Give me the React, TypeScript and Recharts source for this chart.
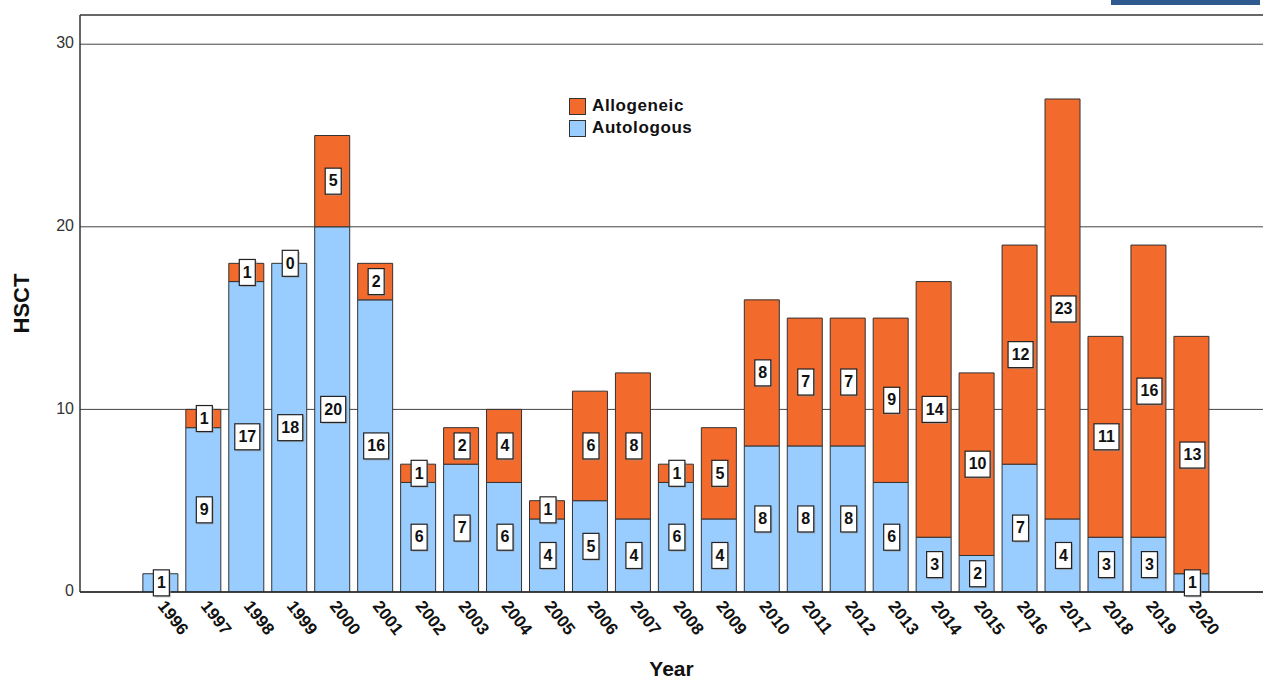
import React from 'react';
import { BarChart, Bar, XAxis, YAxis, CartesianGrid, LabelList, ReferenceLine } from 'recharts';

const years = ['1996','1997','1998','1999','2000','2001','2002','2003','2004','2005','2006','2007','2008','2009','2010','2011','2012','2013','2014','2015','2016','2017','2018','2019','2020'];
const autologous = [1,9,17,18,20,16,6,7,6,4,5,4,6,4,8,8,8,6,3,2,7,4,3,3,1];
const allogeneic: (number | null)[] = [null,1,1,0,5,2,1,2,4,1,6,8,1,5,8,7,7,9,14,10,12,23,11,16,13];
const yTicks = [0,10,20,30];

const ORANGE = '#F26A2C';
const BLUE = '#99CCFF';
const FONT = 'Liberation Sans, Arial, sans-serif';

const data = years.map((y, i) => ({ year: y, Autologous: autologous[i], Allogeneic: allogeneic[i] }));

const drawBox = (cx: number, cy: number, s: string) => {
  const w = s.length > 1 ? 25 : 16;
  const h = 26;
  return (
    <g>
      <rect x={cx - w / 2 + 1.5} y={cy - h / 2 + 1.5} width={w} height={h} fill="#9a9a9a" opacity={0.6} />
      <rect x={cx - w / 2} y={cy - h / 2} width={w} height={h} fill="#fff" stroke="#222" strokeWidth={1.2} />
      <text x={cx} y={cy + 1} textAnchor="middle" dominantBaseline="middle" fontFamily={FONT} fontWeight="bold" fontSize={16} fill="#111">{s}</text>
    </g>
  );
};

const BoxLabel = (props: any) => {
  const { x, y, width, height, value } = props;
  if (value === null || value === undefined || value === 0) return null;
  return drawBox(Number(x) + Number(width) / 2 + 1, Number(y) + Number(height) / 2, String(value));
};

// zero-valued allogeneic segments sit on top of the autologous segment
const ZeroTopLabel = (props: any) => {
  const { x, y, width, value } = props;
  if (value !== 0) return null;
  return drawBox(Number(x) + Number(width) / 2 + 1, Number(y), '0');
};

const XTick = (props: any) => {
  const { x, y, payload } = props;
  return (
    <g transform={`translate(${x + 6},${y - 1})`}>
      <text transform="rotate(52)" textAnchor="start" dy="0.7em" fontFamily={FONT} fontWeight="bold" fontSize={17} fill="#111">{payload.value}</text>
    </g>
  );
};

const YTick = (props: any) => {
  const { x, y, payload } = props;
  return (
    <text x={x + 2} y={y} textAnchor="end" dominantBaseline="middle" fontFamily={FONT} fontSize={16} fill="#333">{payload.value}</text>
  );
};

const HsctLabel = (props: any) => {
  const { viewBox } = props;
  const cy = viewBox.y + viewBox.height / 2;
  return (
    <text x={23} y={cy} transform={`rotate(-90, 23, ${cy})`} textAnchor="middle" dominantBaseline="middle" fontFamily={FONT} fontWeight="bold" fontSize={22} fill="#111">HSCT</text>
  );
};

const legendItems = [{ n: 'Allogeneic', c: ORANGE }, { n: 'Autologous', c: BLUE }];

export default function App() {
  return (
    <div style={{ position: 'absolute', left: 0, top: 0, width: 1263, height: 679, background: '#fff' }}>
      <div style={{ position: 'absolute', left: 1111, top: 0, width: 149, height: 5, background: '#2F5A8F' }} />
      <BarChart width={1263} height={679} data={data} margin={{ top: 15, right: 0, bottom: 0, left: 0 }} barCategoryGap="9%">
        <CartesianGrid horizontal={true} vertical={false} stroke="#444" strokeWidth={1} />
        <ReferenceLine y={31.6} stroke="#555" strokeWidth={1.5} />
        <XAxis
          dataKey="year"
          height={87}
          padding={{ left: 59, right: 50 }}
          axisLine={{ stroke: '#222', strokeWidth: 1.5 }}
          tickLine={false}
          tick={<XTick />}
          interval={0}
          label={{ value: 'Year', position: 'insideBottom', offset: 0, dy: -3, style: { fontFamily: FONT, fontWeight: 'bold', fontSize: 21, fill: '#111' } }}
        />
        <YAxis
          width={80}
          domain={[0, 31.6]}
          ticks={yTicks}
          allowDataOverflow
          axisLine={{ stroke: '#333', strokeWidth: 1.5 }}
          tickLine={false}
          tick={<YTick />}
          label={<HsctLabel />}
        />
        <Bar dataKey="Autologous" stackId="a" fill={BLUE} stroke="#333" strokeWidth={1} isAnimationActive={false}>
          <LabelList dataKey="Autologous" content={<BoxLabel />} />
          <LabelList dataKey="Allogeneic" content={<ZeroTopLabel />} />
        </Bar>
        <Bar dataKey="Allogeneic" stackId="a" fill={ORANGE} stroke="#333" strokeWidth={1} isAnimationActive={false}>
          <LabelList dataKey="Allogeneic" content={<BoxLabel />} />
        </Bar>
      </BarChart>
      <div style={{ position: 'absolute', left: 569, top: 95, fontFamily: FONT, fontWeight: 'bold', fontSize: 17, letterSpacing: '0.6px', color: '#111', lineHeight: '22px' }}>
        {legendItems.map((it) => (
          <div key={it.n} style={{ display: 'flex', alignItems: 'center' }}>
            <span style={{ display: 'inline-block', width: 15, height: 15, background: it.c, border: '1px solid #333', marginRight: 6 }} />
            <span>{it.n}</span>
          </div>
        ))}
      </div>
    </div>
  );
}
